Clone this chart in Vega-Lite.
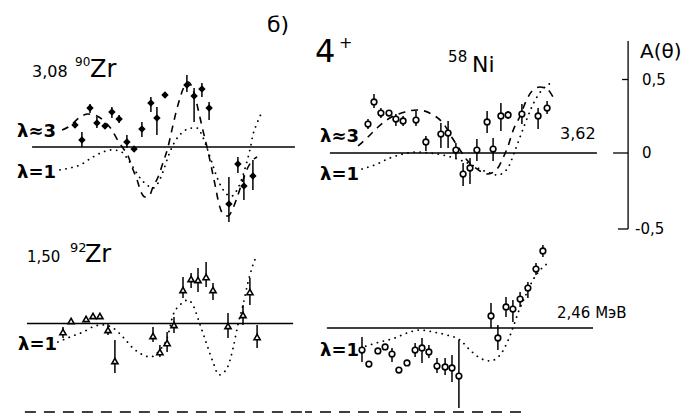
{
"$schema": "https://vega.github.io/schema/vega-lite/v6.json",
"padding": 0,
"background": "white",
"bounds": "flush",
"spacing": 0,
"columns": 2,
"config": {"view": {"stroke": null}, "axis": {"disable": true}},
"resolve": {"scale": {"x": "independent", "y": "independent"}},
"datasets": {
"tlp": [
{"t":25.0,"a":0.150,"lo":0.13,"hi":0.17},
{"t":27.3,"a":0.048,"lo":0.0,"hi":0.102},
{"t":30.0,"a":0.265,"lo":0.231,"hi":0.293},
{"t":32.3,"a":0.163,"lo":0.129,"hi":0.204},
{"t":35.0,"a":0.143,"lo":0.123,"hi":0.163},
{"t":37.3,"a":0.238,"lo":0.197,"hi":0.272},
{"t":39.7,"a":0.190,"lo":0.163,"hi":0.218},
{"t":42.3,"a":0.034,"lo":-0.007,"hi":0.082},
{"t":44.7,"a":-0.014,"lo":-0.03,"hi":0.006},
{"t":47.3,"a":0.122,"lo":0.068,"hi":0.170},
{"t":50.3,"a":0.299,"lo":0.238,"hi":0.340},
{"t":52.3,"a":0.197,"lo":0.082,"hi":0.272},
{"t":55.0,"a":0.354,"lo":0.334,"hi":0.374},
{"t":62.3,"a":0.422,"lo":0.374,"hi":0.490},
{"t":64.7,"a":0.347,"lo":0.170,"hi":0.401},
{"t":67.3,"a":0.395,"lo":0.340,"hi":0.435},
{"t":69.7,"a":0.265,"lo":0.184,"hi":0.306},
{"t":76.3,"a":-0.388,"lo":-0.510,"hi":-0.204},
{"t":79.3,"a":-0.116,"lo":-0.177,"hi":-0.068},
{"t":81.3,"a":-0.265,"lo":-0.361,"hi":-0.190},
{"t":84.3,"a":-0.197,"lo":-0.293,"hi":-0.088}
],
"tl3": [
{"t":20.7,"a":0.116},{"t":23.3,"a":0.143},{"t":26.7,"a":0.204},{"t":29.3,"a":0.224},{"t":32.3,"a":0.211},{"t":35.0,"a":0.170},{"t":37.3,"a":0.116},{"t":39.0,"a":0.054},{"t":41.0,"a":-0.007},{"t":42.7,"a":-0.061},{"t":44.0,"a":-0.136},{"t":45.7,"a":-0.224},{"t":47.0,"a":-0.306},{"t":48.3,"a":-0.340},{"t":49.7,"a":-0.333},{"t":51.0,"a":-0.272},{"t":52.7,"a":-0.204},{"t":54.3,"a":-0.109},{"t":56.0,"a":0.0},{"t":57.3,"a":0.116},{"t":58.7,"a":0.238},{"t":60.0,"a":0.333},{"t":61.3,"a":0.408},{"t":62.7,"a":0.442},{"t":64.0,"a":0.408},{"t":65.3,"a":0.320},{"t":66.7,"a":0.197},{"t":68.0,"a":0.082},{"t":69.0,"a":0.0},{"t":70.3,"a":-0.122},{"t":71.7,"a":-0.259},{"t":73.0,"a":-0.388},{"t":74.3,"a":-0.456},{"t":76.0,"a":-0.469},{"t":77.7,"a":-0.415},{"t":79.3,"a":-0.327},{"t":81.0,"a":-0.224},{"t":82.7,"a":-0.136},{"t":84.3,"a":-0.088},{"t":85.7,"a":-0.068}
],
"tl1": [
{"t":20.0,"a":-0.156},{"t":23.3,"a":-0.143},{"t":26.7,"a":-0.122},{"t":31.0,"a":-0.068},{"t":34.3,"a":-0.034},{"t":37.3,"a":-0.020},{"t":40.0,"a":-0.027},{"t":42.3,"a":-0.075},{"t":44.3,"a":-0.136},{"t":46.7,"a":-0.211},{"t":49.0,"a":-0.259},{"t":51.0,"a":-0.279},{"t":52.7,"a":-0.245},{"t":54.3,"a":-0.170},{"t":56.0,"a":-0.068},{"t":57.7,"a":0.014},{"t":59.3,"a":0.068},{"t":61.0,"a":0.102},{"t":63.3,"a":0.129},{"t":65.7,"a":0.129},{"t":67.3,"a":0.082},{"t":69.0,"a":-0.007},{"t":70.7,"a":-0.109},{"t":72.3,"a":-0.204},{"t":74.0,"a":-0.279},{"t":76.0,"a":-0.327},{"t":77.3,"a":-0.333},{"t":79.0,"a":-0.293},{"t":80.7,"a":-0.211},{"t":82.0,"a":-0.122},{"t":83.3,"a":-0.020},{"t":84.3,"a":0.082},{"t":85.7,"a":0.163},{"t":87.3,"a":0.238}
],
"trp": [
{"t":21.0,"a":0.197,"lo":0.163,"hi":0.231},
{"t":23.0,"a":0.347,"lo":0.306,"hi":0.401},
{"t":25.3,"a":0.272,"lo":0.238,"hi":0.306},
{"t":28.0,"a":0.272,"lo":0.252,"hi":0.292},
{"t":30.3,"a":0.231,"lo":0.184,"hi":0.265},
{"t":32.7,"a":0.218,"lo":0.184,"hi":0.252},
{"t":37.0,"a":0.224,"lo":0.184,"hi":0.286},
{"t":40.3,"a":0.075,"lo":0.014,"hi":0.116},
{"t":45.3,"a":0.129,"lo":0.034,"hi":0.204},
{"t":47.7,"a":0.136,"lo":0.034,"hi":0.218},
{"t":50.3,"a":0.020,"lo":-0.034,"hi":0.068},
{"t":52.7,"a":-0.143,"lo":-0.224,"hi":-0.068},
{"t":55.0,"a":-0.102,"lo":-0.211,"hi":-0.034},
{"t":57.3,"a":0.020,"lo":-0.054,"hi":0.095},
{"t":60.7,"a":0.211,"lo":0.136,"hi":0.286},
{"t":62.7,"a":0.027,"lo":-0.054,"hi":0.102},
{"t":65.3,"a":0.252,"lo":0.150,"hi":0.340},
{"t":67.7,"a":0.259,"lo":0.231,"hi":0.286},
{"t":72.3,"a":0.265,"lo":0.197,"hi":0.333},
{"t":77.7,"a":0.252,"lo":0.163,"hi":0.306},
{"t":80.7,"a":0.306,"lo":0.265,"hi":0.354}
],
"tr3": [
{"t":17.7,"a":0.048},{"t":21.0,"a":0.109},{"t":24.0,"a":0.170},{"t":28.3,"a":0.238},{"t":33.3,"a":0.279},{"t":37.3,"a":0.293},{"t":42.7,"a":0.259},{"t":46.0,"a":0.204},{"t":49.3,"a":0.095},{"t":51.7,"a":0.020},{"t":53.7,"a":-0.041},{"t":56.0,"a":-0.088},{"t":58.3,"a":-0.122},{"t":61.0,"a":-0.143},{"t":64.0,"a":-0.109},{"t":66.0,"a":-0.034},{"t":67.7,"a":0.048},{"t":69.3,"a":0.150},{"t":71.7,"a":0.252},{"t":73.7,"a":0.354},{"t":75.7,"a":0.422},{"t":78.3,"a":0.449},{"t":80.7,"a":0.435},{"t":82.7,"a":0.381}
],
"tr1": [
{"t":19.0,"a":-0.109},{"t":24.0,"a":-0.075},{"t":28.3,"a":-0.034},{"t":32.7,"a":-0.007},{"t":37.3,"a":0.007},{"t":41.7,"a":0.0},{"t":47.3,"a":-0.020},{"t":51.7,"a":-0.048},{"t":55.7,"a":-0.082},{"t":59.0,"a":-0.116},{"t":61.7,"a":-0.136},{"t":64.0,"a":-0.150},{"t":66.0,"a":-0.136},{"t":68.0,"a":-0.088},{"t":69.7,"a":0.0},{"t":71.3,"a":0.088},{"t":73.3,"a":0.197},{"t":75.3,"a":0.299},{"t":77.3,"a":0.381},{"t":79.3,"a":0.435},{"t":81.0,"a":0.463},{"t":82.7,"a":0.490}
],
"blp": [
{"t":21.0,"a":-0.058,"lo":-0.099,"hi":-0.024},
{"t":23.7,"a":0.017,"lo":0.017,"hi":0.017},
{"t":28.7,"a":0.031,"lo":0.031,"hi":0.031},
{"t":31.0,"a":0.051,"lo":0.051,"hi":0.051},
{"t":33.3,"a":0.051,"lo":0.051,"hi":0.051},
{"t":36.0,"a":-0.044,"lo":-0.078,"hi":0.003},
{"t":38.3,"a":-0.255,"lo":-0.337,"hi":-0.112},
{"t":51.0,"a":-0.085,"lo":-0.126,"hi":-0.024},
{"t":53.3,"a":-0.194,"lo":-0.228,"hi":-0.146},
{"t":55.7,"a":-0.133,"lo":-0.194,"hi":-0.058},
{"t":58.0,"a":-0.010,"lo":-0.065,"hi":0.044},
{"t":61.0,"a":0.228,"lo":0.173,"hi":0.316},
{"t":63.7,"a":0.303,"lo":0.241,"hi":0.344},
{"t":66.0,"a":0.296,"lo":0.214,"hi":0.378},
{"t":68.7,"a":0.316,"lo":0.248,"hi":0.418},
{"t":71.0,"a":0.228,"lo":0.160,"hi":0.276},
{"t":76.0,"a":-0.017,"lo":-0.099,"hi":0.071},
{"t":81.0,"a":0.058,"lo":-0.010,"hi":0.126},
{"t":83.3,"a":0.214,"lo":0.126,"hi":0.310},
{"t":85.7,"a":-0.092,"lo":-0.167,"hi":-0.010}
],
"bl1": [
{"t":19.3,"a":-0.126},{"t":23.3,"a":-0.092},{"t":27.7,"a":-0.058},{"t":31.7,"a":-0.017},{"t":34.3,"a":-0.010},{"t":37.7,"a":-0.031},{"t":41.0,"a":-0.092},{"t":44.3,"a":-0.167},{"t":47.7,"a":-0.214},{"t":50.0,"a":-0.228},{"t":53.3,"a":-0.180},{"t":55.7,"a":-0.099},{"t":57.7,"a":0.058},{"t":60.0,"a":0.126},{"t":62.7,"a":0.160},{"t":64.3,"a":0.126},{"t":66.7,"a":-0.010},{"t":69.0,"a":-0.146},{"t":71.0,"a":-0.262},{"t":73.0,"a":-0.350},{"t":75.7,"a":-0.303},{"t":77.7,"a":-0.167},{"t":79.3,"a":-0.010},{"t":81.0,"a":0.126},{"t":82.7,"a":0.282},{"t":84.3,"a":0.398},{"t":85.7,"a":0.466}
],
"brp": [
{"t":19.0,"a":-0.150,"lo":-0.231,"hi":-0.061},
{"t":21.3,"a":-0.245,"lo":-0.245,"hi":-0.245},
{"t":24.3,"a":-0.156,"lo":-0.156,"hi":-0.156},
{"t":26.7,"a":-0.129,"lo":-0.129,"hi":-0.129},
{"t":29.0,"a":-0.177,"lo":-0.231,"hi":-0.136},
{"t":31.3,"a":-0.286,"lo":-0.286,"hi":-0.286},
{"t":34.0,"a":-0.238,"lo":-0.238,"hi":-0.238},
{"t":36.7,"a":-0.150,"lo":-0.197,"hi":-0.102},
{"t":39.0,"a":-0.136,"lo":-0.238,"hi":-0.068},
{"t":41.3,"a":-0.163,"lo":-0.204,"hi":-0.116},
{"t":44.0,"a":-0.259,"lo":-0.306,"hi":-0.204},
{"t":46.7,"a":-0.265,"lo":-0.320,"hi":-0.204},
{"t":49.0,"a":-0.272,"lo":-0.367,"hi":-0.184},
{"t":51.3,"a":-0.327,"lo":-0.544,"hi":-0.082},
{"t":62.0,"a":0.082,"lo":0.0,"hi":0.170},
{"t":64.3,"a":-0.068,"lo":-0.150,"hi":0.020},
{"t":67.0,"a":0.143,"lo":0.075,"hi":0.211},
{"t":69.3,"a":0.129,"lo":0.041,"hi":0.190},
{"t":71.7,"a":0.197,"lo":0.143,"hi":0.245},
{"t":74.3,"a":0.272,"lo":0.204,"hi":0.313},
{"t":77.0,"a":0.401,"lo":0.361,"hi":0.442},
{"t":79.3,"a":0.524,"lo":0.483,"hi":0.565}
],
"br1": [
{"t":18.3,"a":-0.136},{"t":25.0,"a":-0.095},{"t":30.0,"a":-0.068},{"t":32.3,"a":-0.048},{"t":35.0,"a":-0.027},{"t":38.3,"a":-0.014},{"t":42.7,"a":-0.027},{"t":47.3,"a":-0.048},{"t":51.7,"a":-0.082},{"t":55.0,"a":-0.150},{"t":58.3,"a":-0.204},{"t":61.7,"a":-0.224},{"t":65.0,"a":-0.184},{"t":67.3,"a":-0.102},{"t":69.3,"a":0.0},{"t":71.0,"a":0.102},{"t":73.3,"a":0.211},{"t":76.0,"a":0.327},{"t":79.0,"a":0.408},{"t":81.7,"a":0.449}
]
},
"concat": [
{
"width": 305, "height": 240,
"layer": [
{"data": {"values": [{}]}, "mark": {"type": "rule", "color": "black", "strokeWidth": 1.3},
 "encoding": {"x": {"datum": 10.7, "type": "quantitative", "scale": {"domain": [0, 101.667], "nice": false, "zero": false}}, "x2": {"datum": 98.3}, "y": {"datum": 0, "type": "quantitative", "scale": {"domain": [-0.6327, 1.0], "nice": false, "zero": false}}}},
{"data": {"name": "tl3"}, "mark": {"type": "line", "color": "black", "strokeWidth": 1.6, "strokeDash": [7, 6], "interpolate": "monotone"},
 "encoding": {"x": {"field": "t", "type": "quantitative", "scale": {"domain": [0, 101.667], "nice": false, "zero": false}}, "y": {"field": "a", "type": "quantitative", "scale": {"domain": [-0.6327, 1.0], "nice": false, "zero": false}}}},
{"data": {"name": "tl1"}, "mark": {"type": "line", "color": "black", "strokeWidth": 1.8, "strokeDash": [0.1, 6], "strokeCap": "round", "interpolate": "monotone"},
 "encoding": {"x": {"field": "t", "type": "quantitative", "scale": {"domain": [0, 101.667], "nice": false, "zero": false}}, "y": {"field": "a", "type": "quantitative", "scale": {"domain": [-0.6327, 1.0], "nice": false, "zero": false}}}},
{"data": {"name": "tlp"}, "mark": {"type": "rule", "color": "black", "strokeWidth": 1.5},
 "encoding": {"x": {"field": "t", "type": "quantitative", "scale": {"domain": [0, 101.667], "nice": false, "zero": false}}, "y": {"field": "lo", "type": "quantitative", "scale": {"domain": [-0.6327, 1.0], "nice": false, "zero": false}}, "y2": {"field": "hi"}}},
{"data": {"name": "tlp"}, "mark": {"type": "point", "shape": "diamond", "filled": true, "color": "black", "size": 55, "opacity": 1},
 "encoding": {"x": {"field": "t", "type": "quantitative", "scale": {"domain": [0, 101.667], "nice": false, "zero": false}}, "y": {"field": "a", "type": "quantitative", "scale": {"domain": [-0.6327, 1.0], "nice": false, "zero": false}}}},
{"data": {"values": [{"s": "3,08"}]}, "mark": {"type": "text", "align": "left", "baseline": "alphabetic", "font": "DejaVu Sans", "fontSize": 16, "color": "black"},
 "encoding": {"x": {"datum": 10.7, "type": "quantitative", "scale": {"domain": [0, 101.667], "nice": false, "zero": false}}, "y": {"datum": 0.476, "type": "quantitative", "scale": {"domain": [-0.6327, 1.0], "nice": false, "zero": false}}, "text": {"field": "s"}}},
{"data": {"values": [{"s": "90"}]}, "mark": {"type": "text", "align": "left", "baseline": "alphabetic", "font": "DejaVu Sans", "fontSize": 12, "color": "black"},
 "encoding": {"x": {"datum": 25.0, "type": "quantitative", "scale": {"domain": [0, 101.667], "nice": false, "zero": false}}, "y": {"datum": 0.551, "type": "quantitative", "scale": {"domain": [-0.6327, 1.0], "nice": false, "zero": false}}, "text": {"field": "s"}}},
{"data": {"values": [{"s": "Zr"}]}, "mark": {"type": "text", "align": "left", "baseline": "alphabetic", "font": "DejaVu Sans", "fontSize": 24, "color": "black"},
 "encoding": {"x": {"datum": 30.0, "type": "quantitative", "scale": {"domain": [0, 101.667], "nice": false, "zero": false}}, "y": {"datum": 0.476, "type": "quantitative", "scale": {"domain": [-0.6327, 1.0], "nice": false, "zero": false}}, "text": {"field": "s"}}},
{"data": {"values": [{"s": "λ≈3"}]}, "mark": {"type": "text", "align": "left", "baseline": "alphabetic", "font": "DejaVu Sans", "fontSize": 18, "fontWeight": "bold", "color": "black"},
 "encoding": {"x": {"datum": 5.7, "type": "quantitative", "scale": {"domain": [0, 101.667], "nice": false, "zero": false}}, "y": {"datum": 0.068, "type": "quantitative", "scale": {"domain": [-0.6327, 1.0], "nice": false, "zero": false}}, "text": {"field": "s"}}},
{"data": {"values": [{"s": "λ=1"}]}, "mark": {"type": "text", "align": "left", "baseline": "alphabetic", "font": "DejaVu Sans", "fontSize": 18, "fontWeight": "bold", "color": "black"},
 "encoding": {"x": {"datum": 5.7, "type": "quantitative", "scale": {"domain": [0, 101.667], "nice": false, "zero": false}}, "y": {"datum": -0.211, "type": "quantitative", "scale": {"domain": [-0.6327, 1.0], "nice": false, "zero": false}}, "text": {"field": "s"}}},
{"data": {"values": [{"s": "б)"}]}, "mark": {"type": "text", "align": "left", "baseline": "alphabetic", "font": "DejaVu Sans", "fontSize": 22, "color": "black"},
 "encoding": {"x": {"datum": 89.0, "type": "quantitative", "scale": {"domain": [0, 101.667], "nice": false, "zero": false}}, "y": {"datum": 0.782, "type": "quantitative", "scale": {"domain": [-0.6327, 1.0], "nice": false, "zero": false}}, "text": {"field": "s"}}}
]
},
{
"width": 383, "height": 240,
"layer": [
{"data": {"values": [{}]}, "mark": {"type": "rule", "color": "black", "strokeWidth": 1.3},
 "encoding": {"x": {"datum": 8.3, "type": "quantitative", "scale": {"domain": [0, 127.667], "nice": false, "zero": false}}, "x2": {"datum": 97.3}, "y": {"datum": 0, "type": "quantitative", "scale": {"domain": [-0.5918, 1.0408], "nice": false, "zero": false}}}},
{"data": {"values": [{}]}, "mark": {"type": "rule", "color": "black", "strokeWidth": 1.3},
 "encoding": {"x": {"datum": 107.7, "type": "quantitative", "scale": {"domain": [0, 127.667], "nice": false, "zero": false}}, "y": {"datum": 0.762, "type": "quantitative", "scale": {"domain": [-0.5918, 1.0408], "nice": false, "zero": false}}, "y2": {"datum": -0.517}}},
{"data": {"values": [{}]}, "mark": {"type": "rule", "color": "black", "strokeWidth": 1.3},
 "encoding": {"x": {"datum": 105.7, "type": "quantitative", "scale": {"domain": [0, 127.667], "nice": false, "zero": false}}, "x2": {"datum": 107.7}, "y": {"datum": 0.5, "type": "quantitative", "scale": {"domain": [-0.5918, 1.0408], "nice": false, "zero": false}}}},
{"data": {"values": [{}]}, "mark": {"type": "rule", "color": "black", "strokeWidth": 1.3},
 "encoding": {"x": {"datum": 102.7, "type": "quantitative", "scale": {"domain": [0, 127.667], "nice": false, "zero": false}}, "x2": {"datum": 107.7}, "y": {"datum": 0, "type": "quantitative", "scale": {"domain": [-0.5918, 1.0408], "nice": false, "zero": false}}}},
{"data": {"values": [{}]}, "mark": {"type": "rule", "color": "black", "strokeWidth": 1.3},
 "encoding": {"x": {"datum": 104.3, "type": "quantitative", "scale": {"domain": [0, 127.667], "nice": false, "zero": false}}, "x2": {"datum": 107.7}, "y": {"datum": -0.517, "type": "quantitative", "scale": {"domain": [-0.5918, 1.0408], "nice": false, "zero": false}}}},
{"data": {"name": "tr3"}, "mark": {"type": "line", "color": "black", "strokeWidth": 1.6, "strokeDash": [7, 6], "interpolate": "monotone"},
 "encoding": {"x": {"field": "t", "type": "quantitative", "scale": {"domain": [0, 127.667], "nice": false, "zero": false}}, "y": {"field": "a", "type": "quantitative", "scale": {"domain": [-0.5918, 1.0408], "nice": false, "zero": false}}}},
{"data": {"name": "tr1"}, "mark": {"type": "line", "color": "black", "strokeWidth": 1.8, "strokeDash": [0.1, 6], "strokeCap": "round", "interpolate": "monotone"},
 "encoding": {"x": {"field": "t", "type": "quantitative", "scale": {"domain": [0, 127.667], "nice": false, "zero": false}}, "y": {"field": "a", "type": "quantitative", "scale": {"domain": [-0.5918, 1.0408], "nice": false, "zero": false}}}},
{"data": {"name": "trp"}, "mark": {"type": "rule", "color": "black", "strokeWidth": 1.5},
 "encoding": {"x": {"field": "t", "type": "quantitative", "scale": {"domain": [0, 127.667], "nice": false, "zero": false}}, "y": {"field": "lo", "type": "quantitative", "scale": {"domain": [-0.5918, 1.0408], "nice": false, "zero": false}}, "y2": {"field": "hi"}}},
{"data": {"name": "trp"}, "mark": {"type": "point", "shape": "circle", "filled": true, "fill": "white", "stroke": "black", "strokeWidth": 1.6, "size": 32, "opacity": 1},
 "encoding": {"x": {"field": "t", "type": "quantitative", "scale": {"domain": [0, 127.667], "nice": false, "zero": false}}, "y": {"field": "a", "type": "quantitative", "scale": {"domain": [-0.5918, 1.0408], "nice": false, "zero": false}}}},
{"data": {"values": [{"s": "4"}]}, "mark": {"type": "text", "align": "left", "baseline": "alphabetic", "font": "DejaVu Sans", "fontSize": 32, "color": "black"},
 "encoding": {"x": {"datum": 3.3, "type": "quantitative", "scale": {"domain": [0, 127.667], "nice": false, "zero": false}}, "y": {"datum": 0.619, "type": "quantitative", "scale": {"domain": [-0.5918, 1.0408], "nice": false, "zero": false}}, "text": {"field": "s"}}},
{"data": {"values": [{"s": "+"}]}, "mark": {"type": "text", "align": "left", "baseline": "alphabetic", "font": "DejaVu Sans", "fontSize": 16, "color": "black"},
 "encoding": {"x": {"datum": 11.3, "type": "quantitative", "scale": {"domain": [0, 127.667], "nice": false, "zero": false}}, "y": {"datum": 0.714, "type": "quantitative", "scale": {"domain": [-0.5918, 1.0408], "nice": false, "zero": false}}, "text": {"field": "s"}}},
{"data": {"values": [{"s": "58"}]}, "mark": {"type": "text", "align": "left", "baseline": "alphabetic", "font": "DejaVu Sans", "fontSize": 15, "color": "black"},
 "encoding": {"x": {"datum": 47.7, "type": "quantitative", "scale": {"domain": [0, 127.667], "nice": false, "zero": false}}, "y": {"datum": 0.619, "type": "quantitative", "scale": {"domain": [-0.5918, 1.0408], "nice": false, "zero": false}}, "text": {"field": "s"}}},
{"data": {"values": [{"s": "Ni"}]}, "mark": {"type": "text", "align": "left", "baseline": "alphabetic", "font": "DejaVu Sans", "fontSize": 22, "color": "black"},
 "encoding": {"x": {"datum": 55.7, "type": "quantitative", "scale": {"domain": [0, 127.667], "nice": false, "zero": false}}, "y": {"datum": 0.551, "type": "quantitative", "scale": {"domain": [-0.5918, 1.0408], "nice": false, "zero": false}}, "text": {"field": "s"}}},
{"data": {"values": [{"s": "λ≈3"}]}, "mark": {"type": "text", "align": "left", "baseline": "alphabetic", "font": "DejaVu Sans", "fontSize": 18, "fontWeight": "bold", "color": "black"},
 "encoding": {"x": {"datum": 5.0, "type": "quantitative", "scale": {"domain": [0, 127.667], "nice": false, "zero": false}}, "y": {"datum": 0.075, "type": "quantitative", "scale": {"domain": [-0.5918, 1.0408], "nice": false, "zero": false}}, "text": {"field": "s"}}},
{"data": {"values": [{"s": "λ=1"}]}, "mark": {"type": "text", "align": "left", "baseline": "alphabetic", "font": "DejaVu Sans", "fontSize": 18, "fontWeight": "bold", "color": "black"},
 "encoding": {"x": {"datum": 5.0, "type": "quantitative", "scale": {"domain": [0, 127.667], "nice": false, "zero": false}}, "y": {"datum": -0.184, "type": "quantitative", "scale": {"domain": [-0.5918, 1.0408], "nice": false, "zero": false}}, "text": {"field": "s"}}},
{"data": {"values": [{"s": "3,62"}]}, "mark": {"type": "text", "align": "left", "baseline": "alphabetic", "font": "DejaVu Sans", "fontSize": 16, "color": "black"},
 "encoding": {"x": {"datum": 85.0, "type": "quantitative", "scale": {"domain": [0, 127.667], "nice": false, "zero": false}}, "y": {"datum": 0.095, "type": "quantitative", "scale": {"domain": [-0.5918, 1.0408], "nice": false, "zero": false}}, "text": {"field": "s"}}},
{"data": {"values": [{"s": "A(θ)"}]}, "mark": {"type": "text", "align": "left", "baseline": "alphabetic", "font": "DejaVu Sans", "fontSize": 20, "color": "black"},
 "encoding": {"x": {"datum": 111.7, "type": "quantitative", "scale": {"domain": [0, 127.667], "nice": false, "zero": false}}, "y": {"datum": 0.646, "type": "quantitative", "scale": {"domain": [-0.5918, 1.0408], "nice": false, "zero": false}}, "text": {"field": "s"}}},
{"data": {"values": [{"s": "0,5"}]}, "mark": {"type": "text", "align": "left", "baseline": "middle", "font": "DejaVu Sans", "fontSize": 15, "color": "black"},
 "encoding": {"x": {"datum": 112.3, "type": "quantitative", "scale": {"domain": [0, 127.667], "nice": false, "zero": false}}, "y": {"datum": 0.5, "type": "quantitative", "scale": {"domain": [-0.5918, 1.0408], "nice": false, "zero": false}}, "text": {"field": "s"}}},
{"data": {"values": [{"s": "0"}]}, "mark": {"type": "text", "align": "left", "baseline": "middle", "font": "DejaVu Sans", "fontSize": 15, "color": "black"},
 "encoding": {"x": {"datum": 112.3, "type": "quantitative", "scale": {"domain": [0, 127.667], "nice": false, "zero": false}}, "y": {"datum": 0, "type": "quantitative", "scale": {"domain": [-0.5918, 1.0408], "nice": false, "zero": false}}, "text": {"field": "s"}}},
{"data": {"values": [{"s": "-0,5"}]}, "mark": {"type": "text", "align": "left", "baseline": "middle", "font": "DejaVu Sans", "fontSize": 15, "color": "black"},
 "encoding": {"x": {"datum": 110.0, "type": "quantitative", "scale": {"domain": [0, 127.667], "nice": false, "zero": false}}, "y": {"datum": -0.517, "type": "quantitative", "scale": {"domain": [-0.5918, 1.0408], "nice": false, "zero": false}}, "text": {"field": "s"}}}
]
},
{
"width": 305, "height": 178,
"layer": [
{"data": {"values": [{}]}, "mark": {"type": "rule", "color": "black", "strokeWidth": 1.3},
 "encoding": {"x": {"datum": 9.0, "type": "quantitative", "scale": {"domain": [0, 101.667], "nice": false, "zero": false}}, "x2": {"datum": 97.7}, "y": {"datum": 0, "type": "quantitative", "scale": {"domain": [-0.6429, 0.568], "nice": false, "zero": false}}}},
{"data": {"values": [{}]}, "mark": {"type": "rule", "color": "black", "strokeWidth": 1.5, "strokeDash": [11, 8]},
 "encoding": {"x": {"datum": 8.3, "type": "quantitative", "scale": {"domain": [0, 101.667], "nice": false, "zero": false}}, "x2": {"datum": 101.667}, "y": {"datum": -0.602, "type": "quantitative", "scale": {"domain": [-0.6429, 0.568], "nice": false, "zero": false}}}},
{"data": {"name": "bl1"}, "mark": {"type": "line", "color": "black", "strokeWidth": 1.8, "strokeDash": [0.1, 6], "strokeCap": "round", "interpolate": "monotone"},
 "encoding": {"x": {"field": "t", "type": "quantitative", "scale": {"domain": [0, 101.667], "nice": false, "zero": false}}, "y": {"field": "a", "type": "quantitative", "scale": {"domain": [-0.6429, 0.568], "nice": false, "zero": false}}}},
{"data": {"name": "blp"}, "mark": {"type": "rule", "color": "black", "strokeWidth": 1.5},
 "encoding": {"x": {"field": "t", "type": "quantitative", "scale": {"domain": [0, 101.667], "nice": false, "zero": false}}, "y": {"field": "lo", "type": "quantitative", "scale": {"domain": [-0.6429, 0.568], "nice": false, "zero": false}}, "y2": {"field": "hi"}}},
{"data": {"name": "blp"}, "mark": {"type": "point", "shape": "triangle-up", "filled": true, "fill": "white", "stroke": "black", "strokeWidth": 1.6, "size": 38, "opacity": 1},
 "encoding": {"x": {"field": "t", "type": "quantitative", "scale": {"domain": [0, 101.667], "nice": false, "zero": false}}, "y": {"field": "a", "type": "quantitative", "scale": {"domain": [-0.6429, 0.568], "nice": false, "zero": false}}}},
{"data": {"values": [{"s": "1,50"}]}, "mark": {"type": "text", "align": "left", "baseline": "alphabetic", "font": "DejaVu Sans", "fontSize": 15, "color": "black"},
 "encoding": {"x": {"datum": 9.0, "type": "quantitative", "scale": {"domain": [0, 101.667], "nice": false, "zero": false}}, "y": {"datum": 0.418, "type": "quantitative", "scale": {"domain": [-0.6429, 0.568], "nice": false, "zero": false}}, "text": {"field": "s"}}},
{"data": {"values": [{"s": "92"}]}, "mark": {"type": "text", "align": "left", "baseline": "alphabetic", "font": "DejaVu Sans", "fontSize": 13, "color": "black"},
 "encoding": {"x": {"datum": 23.3, "type": "quantitative", "scale": {"domain": [0, 101.667], "nice": false, "zero": false}}, "y": {"datum": 0.486, "type": "quantitative", "scale": {"domain": [-0.6429, 0.568], "nice": false, "zero": false}}, "text": {"field": "s"}}},
{"data": {"values": [{"s": "Zr"}]}, "mark": {"type": "text", "align": "left", "baseline": "alphabetic", "font": "DejaVu Sans", "fontSize": 24, "color": "black"},
 "encoding": {"x": {"datum": 28.3, "type": "quantitative", "scale": {"domain": [0, 101.667], "nice": false, "zero": false}}, "y": {"datum": 0.418, "type": "quantitative", "scale": {"domain": [-0.6429, 0.568], "nice": false, "zero": false}}, "text": {"field": "s"}}},
{"data": {"values": [{"s": "λ=1"}]}, "mark": {"type": "text", "align": "left", "baseline": "alphabetic", "font": "DejaVu Sans", "fontSize": 18, "fontWeight": "bold", "color": "black"},
 "encoding": {"x": {"datum": 6.0, "type": "quantitative", "scale": {"domain": [0, 101.667], "nice": false, "zero": false}}, "y": {"datum": -0.18, "type": "quantitative", "scale": {"domain": [-0.6429, 0.568], "nice": false, "zero": false}}, "text": {"field": "s"}}}
]
},
{
"width": 383, "height": 178,
"layer": [
{"data": {"values": [{}]}, "mark": {"type": "rule", "color": "black", "strokeWidth": 1.3},
 "encoding": {"x": {"datum": 7.3, "type": "quantitative", "scale": {"domain": [0, 127.667], "nice": false, "zero": false}}, "x2": {"datum": 96.0}, "y": {"datum": 0, "type": "quantitative", "scale": {"domain": [-0.6122, 0.5986], "nice": false, "zero": false}}}},
{"data": {"values": [{}]}, "mark": {"type": "rule", "color": "black", "strokeWidth": 1.5, "strokeDash": [11, 8], "strokeDashOffset": 4},
 "encoding": {"x": {"datum": 0, "type": "quantitative", "scale": {"domain": [0, 127.667], "nice": false, "zero": false}}, "x2": {"datum": 72.7}, "y": {"datum": -0.571, "type": "quantitative", "scale": {"domain": [-0.6122, 0.5986], "nice": false, "zero": false}}}},
{"data": {"name": "br1"}, "mark": {"type": "line", "color": "black", "strokeWidth": 1.8, "strokeDash": [0.1, 6], "strokeCap": "round", "interpolate": "monotone"},
 "encoding": {"x": {"field": "t", "type": "quantitative", "scale": {"domain": [0, 127.667], "nice": false, "zero": false}}, "y": {"field": "a", "type": "quantitative", "scale": {"domain": [-0.6122, 0.5986], "nice": false, "zero": false}}}},
{"data": {"name": "brp"}, "mark": {"type": "rule", "color": "black", "strokeWidth": 1.5},
 "encoding": {"x": {"field": "t", "type": "quantitative", "scale": {"domain": [0, 127.667], "nice": false, "zero": false}}, "y": {"field": "lo", "type": "quantitative", "scale": {"domain": [-0.6122, 0.5986], "nice": false, "zero": false}}, "y2": {"field": "hi"}}},
{"data": {"name": "brp"}, "mark": {"type": "point", "shape": "circle", "filled": true, "fill": "white", "stroke": "black", "strokeWidth": 1.6, "size": 32, "opacity": 1},
 "encoding": {"x": {"field": "t", "type": "quantitative", "scale": {"domain": [0, 127.667], "nice": false, "zero": false}}, "y": {"field": "a", "type": "quantitative", "scale": {"domain": [-0.6122, 0.5986], "nice": false, "zero": false}}}},
{"data": {"values": [{"s": "λ=1"}]}, "mark": {"type": "text", "align": "left", "baseline": "alphabetic", "font": "DejaVu Sans", "fontSize": 18, "fontWeight": "bold", "color": "black"},
 "encoding": {"x": {"datum": 5.0, "type": "quantitative", "scale": {"domain": [0, 127.667], "nice": false, "zero": false}}, "y": {"datum": -0.19, "type": "quantitative", "scale": {"domain": [-0.6122, 0.5986], "nice": false, "zero": false}}, "text": {"field": "s"}}},
{"data": {"values": [{"s": "2,46 МэВ"}]}, "mark": {"type": "text", "align": "left", "baseline": "alphabetic", "font": "DejaVu Sans", "fontSize": 15, "color": "black"},
 "encoding": {"x": {"datum": 84.0, "type": "quantitative", "scale": {"domain": [0, 127.667], "nice": false, "zero": false}}, "y": {"datum": 0.068, "type": "quantitative", "scale": {"domain": [-0.6122, 0.5986], "nice": false, "zero": false}}, "text": {"field": "s"}}}
]
}
]
}
